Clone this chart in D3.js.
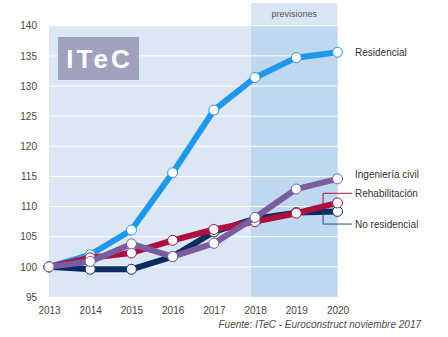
<!DOCTYPE html>
<html>
<head>
<meta charset="utf-8">
<script src="https://cdn.jsdelivr.net/npm/d3@7"></script>
<style>
  html, body { margin: 0; padding: 0; background: #fff; }
  svg { display: block; font-family: "Liberation Sans", Arial, sans-serif; }
</style>
</head>
<body>
<svg id="chart" width="448" height="337"></svg>
<script>
// Construction output index (2013 = 100), ITeC / Euroconstruct
const years = [2013, 2014, 2015, 2016, 2017, 2018, 2019, 2020];
const forecastStart = 2018;
const yTicks = [95, 100, 105, 110, 115, 120, 125, 130, 135, 140];

const residencial     = [100, 102.0, 106.1, 115.6, 126.0, 131.4, 134.7, 135.6];
const noResidencial   = [100, 99.6, 99.6, 101.7, 105.8, 108.0, 109.0, 109.2];
const rehabilitacion  = [100, 101.5, 102.3, 104.4, 106.2, 107.5, 108.9, 110.6];
const ingenieriaCivil = [100, 100.9, 103.8, 101.7, 103.9, 108.2, 112.9, 114.6];

const seriesNames  = ["Residencial", "No residencial", "Rehabilitación", "Ingeniería civil"];
const seriesValues = [residencial, noResidencial, rehabilitacion, ingenieriaCivil];
const seriesColors = ["#1f98ec", "#0c2b60", "#ad0f40", "#7a5d9f"];

const svg = d3.select("#chart");

const x = d3.scaleLinear().domain([2013, 2020]).range([49, 337.5]);
const y = d3.scaleLinear().domain([95, 140]).range([297, 25.7]);

// plot background (historic part)
svg.append("rect")
  .attr("x", x(2013)).attr("y", y(140))
  .attr("width", x(2020) - x(2013)).attr("height", y(95) - y(140))
  .attr("fill", "#dbe7f5");

// forecast band + header
const bandX = x(forecastStart) - 4;
svg.append("rect")
  .attr("x", bandX).attr("y", y(140))
  .attr("width", x(2020) - bandX).attr("height", y(95) - y(140))
  .attr("fill", "#bfd8ef");
svg.append("rect")
  .attr("x", bandX).attr("y", 3)
  .attr("width", x(2020) - bandX).attr("height", y(140) - 3)
  .attr("fill", "#d8e6f5");
svg.append("text")
  .attr("x", (bandX + x(2020)) / 2).attr("y", 13.5)
  .attr("text-anchor", "middle").attr("dominant-baseline", "central")
  .attr("font-size", 9).attr("fill", "#555")
  .text("previsiones");

// horizontal grid
svg.append("g").selectAll("line")
  .data(yTicks.filter(t => t > 95))
  .join("line")
  .attr("x1", x(2013)).attr("x2", x(2020))
  .attr("y1", d => y(d)).attr("y2", d => y(d))
  .attr("stroke", "#ffffff").attr("stroke-width", 1);

// ITeC badge
svg.append("rect")
  .attr("x", 58).attr("y", 37).attr("width", 81).attr("height", 43)
  .attr("fill", "#a0a1bd");
svg.append("text")
  .attr("x", 99.5).attr("y", 68)
  .attr("text-anchor", "middle")
  .attr("font-size", 26).attr("font-weight", "bold")
  .attr("letter-spacing", 3)
  .attr("fill", "#ffffff")
  .text("ITeC");

// axes (labels only)
const yAxis = d3.axisLeft(y).tickValues(yTicks).tickSize(0).tickPadding(0);
const gy = svg.append("g").attr("transform", "translate(37,0)").call(yAxis);
gy.select(".domain").remove();
gy.selectAll("text").attr("font-size", 10).attr("fill", "#4a463e")
  .attr("font-family", "Liberation Sans, Arial, sans-serif");

const xAxis = d3.axisBottom(x).tickValues(years).tickFormat(d3.format("d")).tickSize(0).tickPadding(0);
const gx = svg.append("g").attr("transform", "translate(0,307)").call(xAxis);
gx.select(".domain").remove();
gx.selectAll("text").attr("font-size", 10).attr("fill", "#4a463e")
  .attr("font-family", "Liberation Sans, Arial, sans-serif");

// series lines and markers
const line = d3.line().x((d, i) => x(years[i])).y(d => y(d));
seriesValues.forEach((vals, k) => {
  const g = svg.append("g");
  g.append("path")
    .attr("d", line(vals))
    .attr("fill", "none")
    .attr("stroke", seriesColors[k])
    .attr("stroke-width", 6)
    .attr("stroke-linejoin", "round");
  g.selectAll("circle")
    .data(vals)
    .join("circle")
    .attr("cx", (d, i) => x(years[i]))
    .attr("cy", d => y(d))
    .attr("r", 5)
    .attr("fill", "#ffffff")
    .attr("stroke", seriesColors[k])
    .attr("stroke-width", 1);
});

// series labels
const labelX = 355;
const labelAt = [
  { name: "Residencial", v: 135.6 },
  { name: "Ingeniería civil", v: 115.25 },
  { name: "Rehabilitación", v: 112.2 },
  { name: "No residencial", v: 107.1 }
];
svg.append("g").selectAll("text")
  .data(labelAt)
  .join("text")
  .attr("x", labelX).attr("y", d => y(d.v))
  .attr("dominant-baseline", "central")
  .attr("font-size", 10).attr("fill", "#333")
  .text(d => d.name);

// leader lines from the series to their labels
const leadX = x(2019.65);
const interp = (vals, t) => vals[6] + (vals[7] - vals[6]) * t;
svg.append("path")
  .attr("d", `M${leadX},${y(interp(rehabilitacion, 0.65))}V${y(112.2)}H${labelX - 3}`)
  .attr("fill", "none").attr("stroke", "#ad0f40").attr("stroke-width", 1);
svg.append("path")
  .attr("d", `M${leadX},${y(interp(noResidencial, 0.65))}V${y(107.1)}H${labelX - 3}`)
  .attr("fill", "none").attr("stroke", "#2d4c80").attr("stroke-width", 1);

// source note
svg.append("text")
  .attr("x", 421).attr("y", 324)
  .attr("text-anchor", "end").attr("dominant-baseline", "central")
  .attr("font-size", 10).attr("font-style", "italic").attr("fill", "#4a4a4a")
  .text("Fuente: ITeC - Euroconstruct noviembre 2017");
</script>
</body>
</html>
